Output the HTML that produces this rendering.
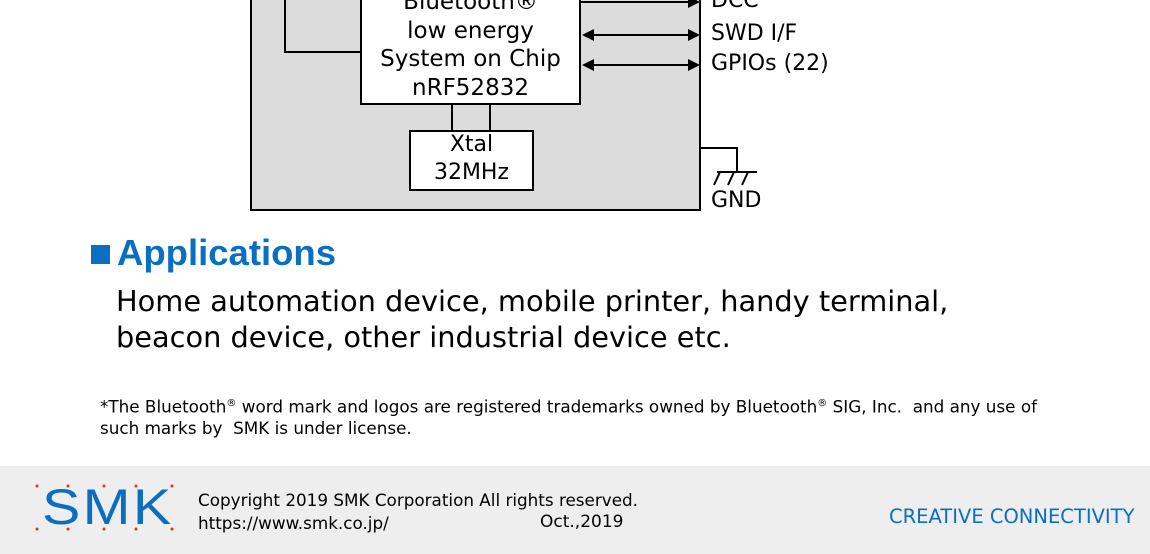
<!DOCTYPE html>
<html><head><style>
body{margin:0;width:1150px;height:554px;position:relative;overflow:hidden;background:#fff;font-family:"DejaVu Sans","Liberation Sans",sans-serif;}
.t{position:absolute;white-space:nowrap;}
</style></head><body>
<svg width="1150" height="554" style="position:absolute;left:0;top:0">
<rect x="251" y="-10" width="449" height="220" fill="#dcdcdc" stroke="#000" stroke-width="2"/>
<polyline points="285,-10 285,52 361,52" fill="none" stroke="#000" stroke-width="2"/>
<rect x="361" y="-10" width="219" height="114" fill="#fff" stroke="#000" stroke-width="2"/>
<line x1="452" y1="104" x2="452" y2="131" stroke="#000" stroke-width="2"/>
<line x1="490" y1="104" x2="490" y2="131" stroke="#000" stroke-width="2"/>
<rect x="410" y="131" width="123" height="59" fill="#fff" stroke="#000" stroke-width="2"/>
<line x1="580" y1="2" x2="690" y2="2" stroke="#000" stroke-width="2"/>
<polygon points="700,2 688,-4 688,8"/>
<line x1="592" y1="35" x2="690" y2="35" stroke="#000" stroke-width="2"/>
<polygon points="700,35 688,29 688,41"/><polygon points="582,35 594,29 594,41"/>
<line x1="592" y1="65" x2="690" y2="65" stroke="#000" stroke-width="2"/>
<polygon points="700,65 688,59 688,71"/><polygon points="582,65 594,59 594,71"/>
<polyline points="700,148 737,148 737,172" fill="none" stroke="#000" stroke-width="2"/>
<line x1="717" y1="172" x2="757" y2="172" stroke="#000" stroke-width="2"/>
<line x1="720" y1="172" x2="714" y2="185" stroke="#000" stroke-width="2"/>
<line x1="734" y1="172" x2="728" y2="185" stroke="#000" stroke-width="2"/>
<line x1="748" y1="172" x2="742" y2="185" stroke="#000" stroke-width="2"/>
<rect x="0" y="466" width="1150" height="88" fill="#eeeeee"/>
<rect x="91" y="245" width="19" height="19" fill="#0a6fc2"/>
<g fill="#e03030">
<circle cx="37" cy="486" r="1.5"/><circle cx="68" cy="486" r="1.5"/><circle cx="104" cy="486" r="1.5"/><circle cx="136" cy="486" r="1.5"/><circle cx="172" cy="486" r="1.5"/>
<circle cx="37" cy="529" r="1.5"/><circle cx="68" cy="529" r="1.5"/><circle cx="104" cy="529" r="1.5"/><circle cx="136" cy="529" r="1.5"/><circle cx="172" cy="529" r="1.5"/>
</g>
</svg>
<div class="t" style="left:361px;top:-12px;width:219px;text-align:center;font-size:23px;line-height:28.5px">Bluetooth®<br>low energy<br>System on Chip<br>nRF52832</div>
<div class="t" style="left:410px;top:131px;width:123px;text-align:center;font-size:22px;line-height:28px">Xtal<br>32MHz</div>
<div class="t" style="left:711px;top:-12px;font-size:22px">DCC</div>
<div class="t" style="left:711px;top:21px;font-size:22px">SWD I/F</div>
<div class="t" style="left:711px;top:51px;font-size:22px">GPIOs (22)</div>
<div class="t" style="left:711px;top:188px;font-size:22px">GND</div>
<div class="t" style="left:117px;top:232px;font-size:36.5px;font-weight:bold;color:#0a6fc2;font-family:'Liberation Sans',sans-serif">Applications</div>
<div class="t" style="left:116px;top:283px;font-size:28.8px;line-height:36px">Home automation device, mobile printer, handy terminal,<br>beacon device, other industrial device etc.</div>
<div class="t" style="left:100px;top:393px;font-size:16.8px;line-height:21px">*The Bluetooth<sup style="font-size:10px">®</sup> word mark and logos are registered trademarks owned by Bluetooth<sup style="font-size:10px">®</sup> SIG, Inc.&nbsp; and any use of<br>such marks by&nbsp; SMK is under license.</div>
<div class="t" style="left:42px;top:478px;font-size:50px;color:#0a6fc2;letter-spacing:2px;font-family:'Liberation Sans',sans-serif;transform:scaleX(1.15);transform-origin:left">SMK</div>
<div class="t" style="left:198px;top:489px;font-size:16.8px;line-height:23px">Copyright 2019 SMK Corporation All rights reserved.<br>https://www.smk.co.jp/</div>
<div class="t" style="left:540px;top:512px;font-size:17px">Oct.,2019</div>
<div class="t" style="left:889px;top:505px;font-size:19.5px;color:#0a6fc2">CREATIVE CONNECTIVITY</div>
</body></html>
